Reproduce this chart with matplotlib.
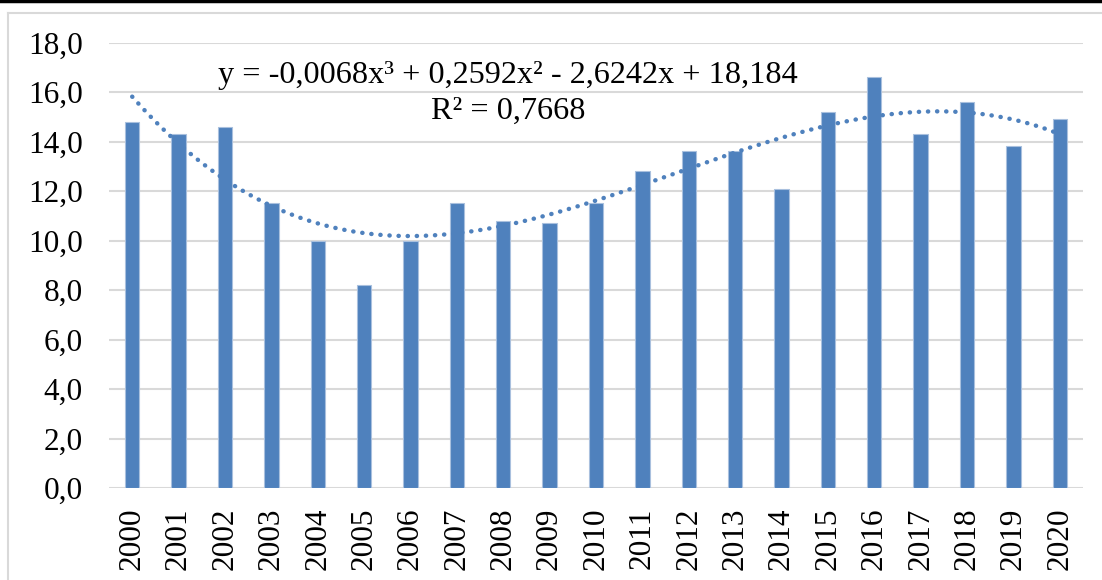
import matplotlib.pyplot as plt
from matplotlib.lines import Line2D
from matplotlib.ticker import FuncFormatter
import numpy as np

years = [str(y) for y in range(2000, 2021)]
values = [14.8, 14.3, 14.6, 11.5, 10.0, 8.2, 10.0, 11.5, 10.8, 10.7, 11.5,
          12.8, 13.6, 13.6, 12.1, 15.2, 16.6, 14.3, 15.6, 13.8, 14.9]
eq_text = "y = -0,0068x\u00b3 + 0,2592x\u00b2 - 2,6242x + 18,184"
r2_text = "R\u00b2 = 0,7668"

plt.rcParams['font.family'] = ['Liberation Serif', 'DejaVu Serif']
bar_color = '#4F81BD'

fig = plt.figure(figsize=(11.02, 5.80), dpi=100)
ax = fig.add_axes([109 / 1102, 1 - 488 / 580, (1083 - 109) / 1102, (488 - 42.5) / 580])

x = np.arange(len(years))
ax.bar(x, values, width=0.31, color=bar_color, edgecolor='#A9C0DE', linewidth=0.8, zorder=3)

# polynomial trend line (3rd order), fitted to the bars
xp = x + 1
coef = np.polyfit(xp, values, 3)
xs = np.linspace(1, len(years), 200)
ax.plot(xs - 1, np.polyval(coef, xs), color=bar_color, linestyle=(0, (0.05, 2.0)),
        linewidth=3.2, dash_capstyle='round', zorder=4)

ax.set_xlim(-0.5, len(years) - 0.5)
ax.set_ylim(0, 18)
ax.set_yticks(np.arange(0, 19, 2))
ax.yaxis.set_major_formatter(FuncFormatter(lambda v, p: "{:.1f}".format(v).replace('.', ',')))
ax.set_xticks(x)
ax.set_xticklabels(years, rotation=90)
ax.tick_params(axis='both', length=0, labelsize=22.5, colors='black')
ax.tick_params(axis='x', pad=14)
ax.tick_params(axis='y', pad=19)
ax.grid(axis='y', color='#D9D9D9', linewidth=1.5, zorder=0)
for s in ax.spines.values():
    s.set_visible(False)

ax.text(0.41, 0.925, eq_text, transform=ax.transAxes, ha='center', va='center', fontsize=23.2)
ax.text(0.41, 0.845, r2_text, transform=ax.transAxes, ha='center', va='center', fontsize=23.2)

# outer frame
fig.add_artist(Line2D([0, 1], [1 - 1 / 580, 1 - 1 / 580], color='black', linewidth=2.5))
fig.add_artist(Line2D([8 / 1102, 1], [1 - 13 / 580, 1 - 13 / 580], color='#D9D9D9', linewidth=1.5))
fig.add_artist(Line2D([8 / 1102, 8 / 1102], [0, 1 - 13 / 580], color='#D9D9D9', linewidth=1.5))

fig.savefig('out.png', dpi=100)
